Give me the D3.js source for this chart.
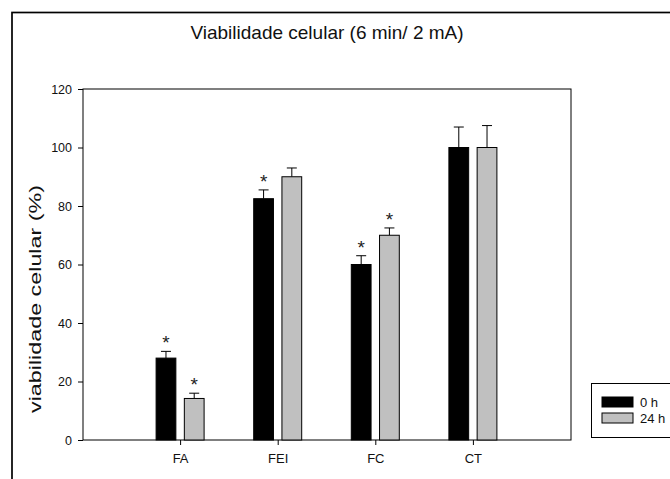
<!DOCTYPE html>
<html>
<head>
<meta charset="utf-8">
<script src="https://cdn.jsdelivr.net/npm/d3@7"></script>
<style>
body{margin:0;background:#fff;}
svg{font-family:"Liberation Sans",Arial,sans-serif;}
</style>
</head>
<body>
<div class="viz"></div>
<script>
const categories=['FA','FEI','FC','CT'];
const series=['0 h','24 h'];
const vals0=[28,82.5,60,100];
const err0=[2.3,3,3,7];
const vals24=[14.2,90,70,100];
const err24=[1.8,3,2.5,7.5];
const signif0=[true,true,true,false];
const signif24=[true,false,true,false];
const yTicks=[0,20,40,60,80,100,120];

const width=670;
const height=479;
const mLeft=83, mRight=571, mTop=89, mBottom=440;

let svg=d3.select('.viz').append('svg')
	.attr('width',width)
	.attr('height',height)

// outer frame
svg.append('rect')
	.attr('x',12).attr('y',12.5)
	.attr('width',680).attr('height',500)
	.attr('fill','none').attr('stroke','black').attr('stroke-width',1.7)

svg.append('text')
	.attr('x',(mLeft+mRight)/2).attr('y',39)
	.attr('text-anchor','middle')
	.attr('font-size',19)
	.attr('fill','#111')
	.text('Viabilidade celular (6 min/ 2 mA)')

const y=d3.scaleLinear().domain([0,120]).range([mBottom,mTop])
const pad=(mRight-mLeft)/5/2
const x=d3.scaleBand().domain(categories).range([mLeft+pad,mRight-pad])

const colors=d3.scaleOrdinal().domain(series).range(['black','#c0c0c0'])

svg.append('g')
	.attr('transform','translate('+mLeft+',0)')
	.call(d3.axisLeft(y).tickValues(yTicks).tickSize(5).tickPadding(6))
	.call(g=>g.selectAll('text').attr('font-size',12.5).attr('font-family','inherit').attr('fill','#111'))
	.call(g=>g.select('.domain').remove())

svg.append('g')
	.attr('transform','translate(0,'+mBottom+')')
	.call(d3.axisBottom(x).tickSize(5).tickPadding(9))
	.call(g=>g.selectAll('text').attr('font-size',13).attr('font-family','inherit').attr('fill','#111'))
	.call(g=>g.select('.domain').remove())

svg.append('rect')
	.attr('x',mLeft).attr('y',mTop)
	.attr('width',mRight-mLeft).attr('height',mBottom-mTop)
	.attr('fill','none').attr('stroke','black').attr('stroke-width',1)

// y label, a little stretched like the original
svg.append('text')
	.attr('transform','translate(41,299) rotate(-90)')
	.attr('text-anchor','middle')
	.attr('font-size',17)
	.attr('textLength',228)
	.attr('lengthAdjust','spacingAndGlyphs')
	.attr('fill','#111')
	.text('viabilidade celular  (%)')

const inner=d3.scaleBand().domain(series).range([-24.5,23.5]).paddingInner(0.3)

const data=[];
categories.forEach((c,i)=>{
	data.push({cat:c,s:series[0],v:vals0[i],e:err0[i],sig:signif0[i]})
	data.push({cat:c,s:series[1],v:vals24[i],e:err24[i],sig:signif24[i]})
})
const cx=d=>x(d.cat)+x.bandwidth()/2+inner(d.s)+inner.bandwidth()/2

const eb=svg.selectAll('.err').data(data).join('g').attr('class','err')
eb.append('line')
	.attr('x1',cx).attr('x2',cx)
	.attr('y1',d=>y(d.v)).attr('y2',d=>y(d.v+d.e))
	.attr('stroke','black')
eb.append('line')
	.attr('x1',d=>cx(d)-5).attr('x2',d=>cx(d)+5)
	.attr('y1',d=>y(d.v+d.e)).attr('y2',d=>y(d.v+d.e))
	.attr('stroke','black')

svg.selectAll('.bar').data(data).join('rect')
	.attr('class','bar')
	.attr('x',d=>x(d.cat)+x.bandwidth()/2+inner(d.s))
	.attr('width',inner.bandwidth())
	.attr('y',d=>y(d.v))
	.attr('height',d=>mBottom-y(d.v))
	.attr('fill',d=>colors(d.s))
	.attr('stroke','black')
	.attr('stroke-width',1)

svg.selectAll('.star').data(data.filter(d=>d.sig)).join('text')
	.attr('class','star')
	.attr('x',cx)
	.attr('y',d=>y(d.v+d.e)-2)
	.attr('text-anchor','middle')
	.attr('font-size',19)
	.attr('fill','#222')
	.text('*')

// legend
const lg=svg.append('g')
lg.append('rect')
	.attr('x',591.5).attr('y',383.5)
	.attr('width',100).attr('height',54)
	.attr('fill','white').attr('stroke','black')
series.forEach((s,i)=>{
	lg.append('rect')
		.attr('x',602).attr('y',397+i*16)
		.attr('width',31).attr('height',10)
		.attr('fill',colors(s)).attr('stroke','black')
	lg.append('text')
		.attr('x',640).attr('y',407+i*16)
		.attr('font-size',13)
		.attr('fill','#111')
		.text(s)
})
</script>
</body>
</html>
